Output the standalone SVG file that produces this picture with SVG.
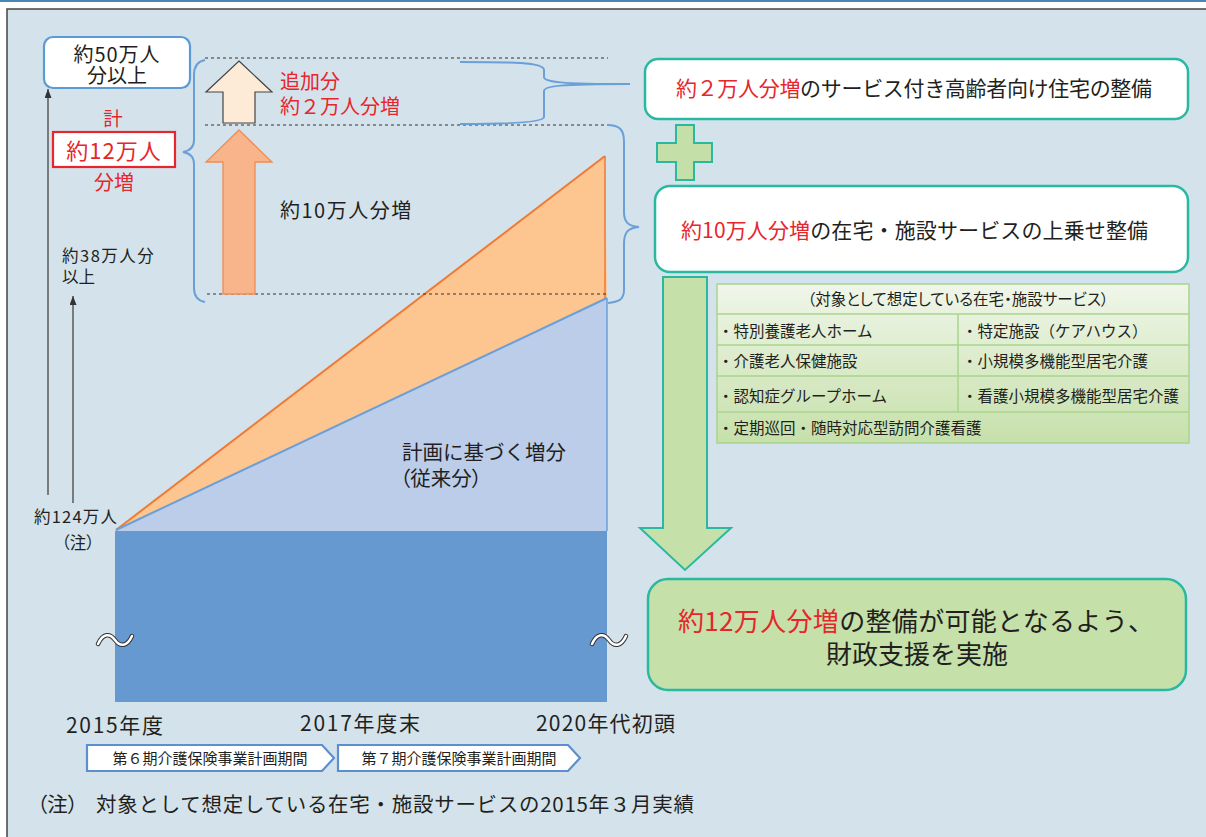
<svg xmlns="http://www.w3.org/2000/svg" width="1206" height="837" viewBox="0 0 1206 837">
<defs>
<style>
text{font-family:'Noto Sans CJK JP','Noto Sans',sans-serif;fill:#231f20}
.r{fill:#e6262c}
.dash{stroke:#333;stroke-width:1;stroke-dasharray:3 3;fill:none}
.brace{fill:none;stroke:#6a9fd8;stroke-width:2}
.tbox{fill:#fff;stroke:#2bb8a0;stroke-width:2.5}
.gbox{fill:#c5e0a9;stroke:#2bb8a0;stroke-width:2.5}
.palt{font-feature-settings:"palt"}
.cell{font-size:15.5px}
.tl{stroke:#a9d48c;stroke-width:1.5;fill:none}
.phase{fill:#fff;stroke:#5b8fd0;stroke-width:2.2}
.ax{stroke:#444;stroke-width:1.3;fill:none;marker-end:url(#ah)}
.tilde-o{fill:none;stroke:#333;stroke-width:4.5;stroke-linecap:round}
.tilde-i{fill:none;stroke:#fff;stroke-width:2.5;stroke-linecap:round}
</style>
<linearGradient id="tg" x1="0" y1="0" x2="0" y2="1">
<stop offset="0" stop-color="#f0f6ea"/>
<stop offset="1" stop-color="#c6e0aa"/>
</linearGradient>
<marker id="ah" markerUnits="userSpaceOnUse" markerWidth="9" markerHeight="7" refX="9" refY="3.5" orient="auto">
<path d="M0,0 L9,3.5 L0,7 Z" fill="#333"/>
</marker>
</defs>

<!-- background panel -->
<rect x="0" y="0" width="1206" height="837" fill="#fff"/>
<rect x="0" y="0" width="1206" height="2" fill="#4a86b4"/>
<rect x="7" y="9" width="1210" height="840" fill="#d4e3eb" stroke="#444" stroke-width="1.5"/>

<!-- chart -->
<g id="chart">
<rect x="115" y="531" width="492" height="171" fill="#6699d0"/>
<polygon points="115,531 607,298 607,531" fill="#bccde9"/>
<polygon points="115,531 605,156 607,298" fill="#fdc690"/>
<line x1="116" y1="530" x2="605" y2="156" stroke="#f07a35" stroke-width="2"/>
<line x1="605" y1="156" x2="605" y2="298" stroke="#f07a35" stroke-width="1.5"/>
<line x1="116" y1="530" x2="607" y2="298" stroke="#6a9fd8" stroke-width="2"/>
<line x1="607" y1="298" x2="607" y2="531" stroke="#6a9fd8" stroke-width="1.5"/>
<text x="402" y="460" font-size="20.5">計画に基づく増分</text>
<text x="400" y="486" font-size="20.5" class="palt">（従来分）</text>
<path class="tilde-o" d="M98,644 C103,633 110,633 115,640 C120,647 127,647 132,636"/>
<path class="tilde-i" d="M98,644 C103,633 110,633 115,640 C120,647 127,647 132,636"/>
<path class="tilde-o" d="M592,644 C597,633 604,633 609,640 C614,647 621,647 626,636"/>
<path class="tilde-i" d="M592,644 C597,633 604,633 609,640 C614,647 621,647 626,636"/>
</g>

<!-- connectors -->
<g id="connectors">
<line class="dash" x1="205" y1="58" x2="608" y2="58"/>
<line class="dash" x1="205" y1="125" x2="608" y2="125"/>
<line class="dash" x1="207" y1="294" x2="608" y2="294"/>
<path class="brace" d="M205,60 Q194,62 194,75 L194,140 Q194,150 183,152 Q194,154 194,164 L194,288 Q194,300 205,302"/>
<path class="brace" d="M460,62 C510,62 544,62 544,70 L544,77 C544,82 560,84 630,84 C560,84 544,86 544,91 L544,117 C544,122 510,124 460,124"/>
<path class="brace" d="M607,125 C620,125 624,130 624,142 L624,212 C624,222 628,226 639,227 C628,228 624,232 624,244 L624,290 C624,300 618,302 608,303"/>
<line class="ax" x1="48" y1="495" x2="48" y2="89"/>
<line class="ax" x1="73" y1="503" x2="73" y2="296"/>
<polygon points="239,130 272,162 255,162 255,294 223,294 223,162 206,162" fill="#f8b48a" stroke="#ef8c55" stroke-width="1.3"/>
<polygon points="239,61 272,92 255,92 255,123 223,123 223,92 206,92" fill="#fdebd8" stroke="#444" stroke-width="1.2"/>
<path d="M676,125 H694 V143 H712 V162 H694 V180 H676 V162 H657 V143 H676 Z" fill="#c4dfa8" stroke="#2bb8a0" stroke-width="2"/>
<path d="M663,277 H707 V528 H731 L685,570 L640,528 H663 Z" fill="#c5e0a8" stroke="#2bb8a0" stroke-width="2"/>
</g>

<!-- left labels -->
<g id="total-box">
<rect x="44" y="37" width="146" height="51" rx="9" fill="#fff" stroke="#5b9bd5" stroke-width="2.2"/>
<text x="117" y="62" font-size="20" text-anchor="middle" letter-spacing="1">約50万人</text>
<text x="117" y="83" font-size="20" text-anchor="middle">分以上</text>
</g>
<g id="increase-total">
<text x="113" y="126" font-size="19.5" text-anchor="middle" class="r">計</text>
<rect x="53" y="132" width="122" height="35" fill="#fff" stroke="#e6262c" stroke-width="2.2"/>
<text x="114" y="159" font-size="22" text-anchor="middle" class="r" letter-spacing="1">約12万人</text>
<text x="114" y="190" font-size="20" text-anchor="middle" class="r">分増</text>
</g>
<g id="label-38">
<text x="62" y="262" font-size="16.5" letter-spacing="1.5">約38万人分</text>
<text x="62" y="283" font-size="16.5">以上</text>
</g>
<g id="label-124">
<text x="34" y="523" font-size="16.5" letter-spacing="1.2">約124万人</text>
<text x="78" y="549" font-size="16.5" text-anchor="middle" class="palt">（注）</text>
</g>
<g id="arrow-labels">
<text x="280" y="89" font-size="20" class="r">追加分</text>
<text x="280" y="114" font-size="20" class="r">約２万人分増</text>
<text x="280" y="218" font-size="20" letter-spacing="1.5">約10万人分増</text>
</g>

<!-- right boxes -->
<g id="box-housing">
<rect class="tbox" x="645" y="59" width="543" height="60" rx="13"/>
<text x="676" y="96" font-size="21" textLength="476" lengthAdjust="spacing"><tspan class="r">約２万人分増</tspan>のサービス付き高齢者向け住宅の整備</text>
</g>
<g id="box-services">
<rect class="tbox" x="655" y="186" width="533" height="86" rx="15"/>
<text x="681" y="238" font-size="21" textLength="467" lengthAdjust="spacing"><tspan class="r">約10万人分増</tspan>の在宅・施設サービスの上乗せ整備</text>
</g>
<g id="services-table">
<rect x="717" y="284" width="472" height="159" fill="url(#tg)"/>
<rect class="tl" x="717" y="284" width="472" height="159"/>
<line class="tl" x1="717" y1="314" x2="1189" y2="314"/>
<line class="tl" x1="717" y1="345" x2="1189" y2="345"/>
<line class="tl" x1="717" y1="376" x2="1189" y2="376"/>
<line class="tl" x1="717" y1="412" x2="1189" y2="412"/>
<line class="tl" x1="958" y1="314" x2="958" y2="412"/>
<text x="958" y="305" class="cell palt" text-anchor="middle">（対象として想定している在宅・施設サービス）</text>
<text x="718" y="337" class="cell">・特別養護老人ホーム</text>
<text x="962" y="337" class="cell">・特定施設（ケアハウス）</text>
<text x="718" y="367" class="cell">・介護老人保健施設</text>
<text x="962" y="367" class="cell">・小規模多機能型居宅介護</text>
<text x="718" y="402" class="cell">・認知症グループホーム</text>
<text x="962" y="402" class="cell">・看護小規模多機能型居宅介護</text>
<text x="718" y="434" class="cell">・定期巡回・随時対応型訪問介護看護</text>
</g>
<g id="box-support">
<rect class="gbox" x="648" y="579" width="538" height="111" rx="20"/>
<text x="678" y="631" font-size="26" textLength="476" lengthAdjust="spacing"><tspan class="r">約12万人分増</tspan>の整備が可能となるよう、</text>
<text x="917" y="664" font-size="26" text-anchor="middle">財政支援を実施</text>
</g>

<!-- axis -->
<g id="axis-labels">
<text x="66" y="733" font-size="21" textLength="97" lengthAdjust="spacing">2015年度</text>
<text x="300" y="731" font-size="21" textLength="120" lengthAdjust="spacing">2017年度末</text>
<text x="536" y="731" font-size="21" textLength="139" lengthAdjust="spacing">2020年代初頭</text>
</g>
<g id="phase-6">
<path class="phase" d="M87,745 L322,745 L334,758 L322,771 L87,771 Z"/>
<text x="210" y="764" font-size="15" text-anchor="middle">第６期介護保険事業計画期間</text>
</g>
<g id="phase-7">
<path class="phase" d="M338,745 L568,745 L580,758 L568,771 L338,771 Z"/>
<text x="459" y="764" font-size="15" text-anchor="middle">第７期介護保険事業計画期間</text>
</g>
<g id="footnote">
<text x="37" y="812" font-size="20.5" class="palt">（注）</text>
<text x="96" y="812" font-size="20.5" textLength="598" lengthAdjust="spacing">対象として想定している在宅・施設サービスの2015年３月実績</text>
</g>
</svg>
